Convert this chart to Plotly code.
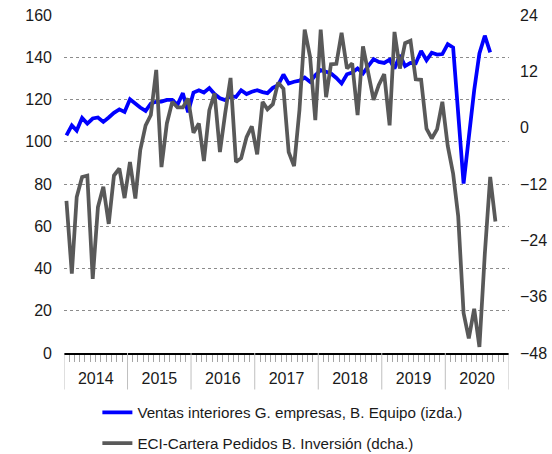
import pandas as pd
import plotly.graph_objects as go

# Monthly data, Jan 2014 onwards
ventas = [103, 107.7, 105.3, 111.3, 108.6, 111, 111.5, 109.4, 111.5, 113.7, 115.3, 114.1,
          120.1, 117.8, 116.2, 114.6, 118.1, 118.9, 119, 119.8, 119.8, 117.5, 123, 114,
          123.3, 124.4, 123.3, 125.4, 122.6, 120.6, 119.7, 121.7, 121.2, 124.4, 122.6, 123.7,
          124.4, 123.5, 123, 125.5, 126.8, 131.8, 127.6, 128.4, 128.9, 130.4, 128.4, 131.5,
          133.9, 133.1, 132.3, 130.2, 127.6, 131.9, 132.8, 134.7, 132.3, 135.8, 139.1, 137.8,
          137.3, 138.9, 134.6, 141, 135.8, 137.3, 137.1, 143, 138.6, 142.1, 141.3, 141.5,
          146.2, 144.6, 115, 80.2, 102, 124.4, 141.8, 150.2, 142.3]

cartera = [-15.6, -31.1, -14.8, -10.5, -10.2, -32.2, -16.9, -12.6, -20.5, -10.2, -8.7, -15.0,
           -7.3, -15.1, -4.8, 0.5, 2.7, 12.3, -8.4, 0.9, 5.5, 4.3, 4.3, 6.2,
           -1.1, 0.9, -7.1, 3.7, 7.3, -5.2, 3.0, 10.6, -7.3, -6.5, -2.0, 0.3,
           -5.7, 5.5, 3.9, 5.0, 9.6, 8.3, -5.2, -8.2, 3.8, 20.9, 15.1, 1.6,
           20.9, 6.5, 13.5, 13.6, 20.2, 12.6, 13.7, 2.7, 17.3, 11.4, 5.9, 9.1,
           11.4, 0.5, 20.4, 12.6, 18.0, 18.5, 10.3, 10.2, -0.2, -2.3, -0.3, 5.5,
           -3.9, -9.8, -18.8, -39.5, -44.9, -38.6, -46.7, -26.9, -10.5, -20.0]

years = [2014, 2015, 2016, 2017, 2018, 2019, 2020, 2021]

name_ventas = "Ventas interiores G. empresas, B. Equipo (izda.)"
name_cartera = "ECI-Cartera Pedidos B. Inversión (dcha.)"

start = pd.Timestamp("2014-01-01")
dates_v = [start + pd.DateOffset(months=i) + pd.Timedelta(days=14) for i in range(len(ventas))]
dates_c = [start + pd.DateOffset(months=i) + pd.Timedelta(days=14) for i in range(len(cartera))]

fig = go.Figure()
fig.add_trace(go.Scatter(x=dates_v, y=ventas, mode="lines", name=name_ventas,
                         legendgroup="a",
                         line=dict(color="#0000FF", width=3.75)))
fig.add_trace(go.Scatter(x=dates_c, y=cartera, mode="lines", name=name_cartera, yaxis="y2",
                         legendgroup="b",
                         line=dict(color="#595959", width=3.75)))

font_fam = "Liberation Sans, Arial, sans-serif"

for yr in years:
    fig.add_shape(type="line", xref="x", yref="paper",
                  x0=f"{yr}-01-01", x1=f"{yr}-01-01", y0=0, y1=-0.108,
                  line=dict(color="#bfbfbf", width=1))

fig.update_layout(
    width=552, height=454,
    margin=dict(l=64, r=43, t=15, b=101, autoexpand=False),
    paper_bgcolor="white", plot_bgcolor="white",
    font=dict(family=font_fam, size=16, color="#1a1a1a"),
    showlegend=True,
    legend=dict(orientation="v", x=0.075, y=-0.127, xanchor="left", yanchor="top",
                font=dict(size=15.2, color="#1a1a1a"), tracegroupgap=8,
                itemwidth=30, bgcolor="rgba(0,0,0,0)"),
    xaxis=dict(type="date", range=["2014-01-01", "2021-01-01"],
               tick0="2014-01-01", dtick="M12", ticklabelmode="period",
               tickformat="%Y", ticks="", showgrid=False,
               showline=True, linecolor="black", linewidth=1.5,
               minor=dict(dtick="M1", ticks="outside", ticklen=7, tickcolor="#a6a6a6",
                          showgrid=False),
               tickfont=dict(size=16), ticklabelstandoff=10, fixedrange=True),
    yaxis=dict(range=[0, 160], dtick=20, showgrid=True, gridcolor="#8c8c8c",
               griddash="dot", gridwidth=1, zeroline=False, showline=False,
               ticks="", tickfont=dict(size=16), ticklabelstandoff=11),
    yaxis2=dict(range=[-48, 24], dtick=12, overlaying="y", side="right",
                showgrid=False, zeroline=False, showline=False, ticks="",
                tickfont=dict(size=16), ticklabelstandoff=10),
)

fig.write_html("out.html", config={"displayModeBar": False},
               post_script="document.body.style.margin='0px';")
